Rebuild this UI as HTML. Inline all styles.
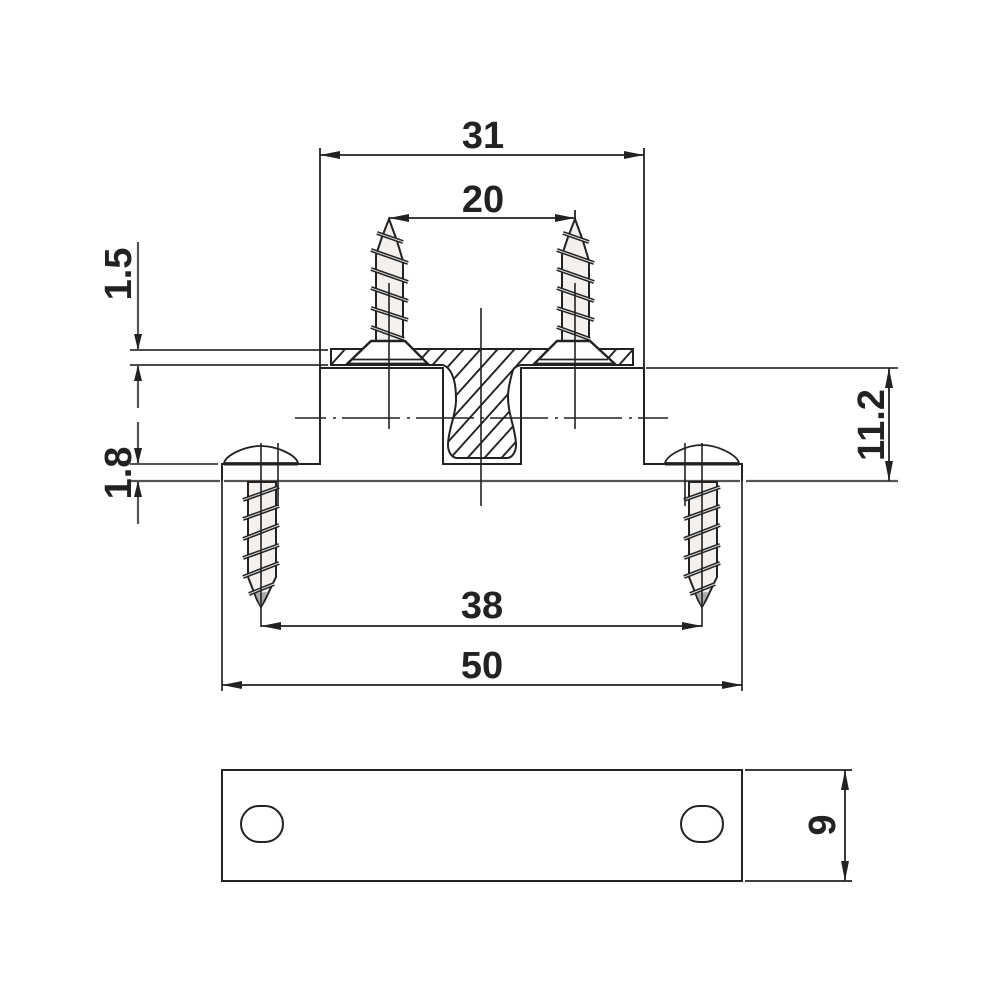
<!DOCTYPE html>
<html><head><meta charset="utf-8"><style>
html,body{margin:0;padding:0;background:#fff}
svg{display:block;filter:blur(.35px)}
text{font-family:"Liberation Sans",sans-serif;font-weight:bold;font-size:38px;fill:#222;text-anchor:middle}
</style></head><body>
<svg width="1000" height="1000" viewBox="0 0 1000 1000" xmlns="http://www.w3.org/2000/svg">
<defs>
<pattern id="h" width="12.6" height="12.6" patternUnits="userSpaceOnUse" patternTransform="translate(461.7 350) rotate(-48)">
<rect width="12.6" height="12.6" fill="#fff"/><rect y="0" width="12.6" height="1.9" fill="#222"/>
</pattern>
<marker id="a" viewBox="0 0 20 8" refX="20" refY="4" markerWidth="20" markerHeight="8" markerUnits="userSpaceOnUse" orient="auto-start-reverse"><path d="M0 0L20 4L0 8Z" fill="#222"/></marker>
<marker id="b" viewBox="0 0 16 8" refX="16" refY="4" markerWidth="16" markerHeight="8" markerUnits="userSpaceOnUse" orient="auto-start-reverse"><path d="M0 0L16 4L0 8Z" fill="#222"/></marker>
<g id="st">
<path d="M0 0L-7 18L-13 36V122H14V42L8 22Z" fill="#f4f0ed" stroke="#222" stroke-width="2"/>
<g stroke="#222" stroke-width="4"><path d="M-12 14L14 23M-18 31L19 44M-18 50L19 63M-18 69L19 82M-18 89L19 101M-18 108L15 120"/></g>
<g stroke="#ddd" stroke-width="1"><path d="M-12 14L14 23M-18 31L19 44M-18 50L19 63M-18 69L19 82M-18 89L19 101M-18 108L15 120"/></g>
</g>
<g id="sb">
<path d="M-13 0V95L-4 118L0 125L4 118L15 95V0Z" fill="#f4f0ed" stroke="#222" stroke-width="2"/>
<path d="M-6 111L0 125L6 110Z" fill="#aaa"/>
<g stroke="#222" stroke-width="4"><path d="M-18 18L18 5M-18 37L18 24M-18 57L18 43M-18 76L18 63M-18 95L18 81M-12 112L13 102"/></g>
<g stroke="#ddd" stroke-width="1"><path d="M-18 18L18 5M-18 37L18 24M-18 57L18 43M-18 76L18 63M-18 95L18 81M-12 112L13 102"/></g>
</g>
</defs>
<rect width="1000" height="1000" fill="#fff"/>
<!-- screws top -->
<use href="#st" x="389" y="219"/>
<use href="#st" x="575" y="219"/>
<!-- plate with hatching -->
<path d="M331 349H633V365H521C516 366 514 368 513 370C510 380 508 388 508 397C508 415 516 430 516 445C516 452 512 458 507 458H457C452 458 448 452 448 445C448 430 456 415 456 400C456 390 455 382 453 377C451 371 448 367 443 365H331Z" fill="url(#h)" stroke="#222" stroke-width="2"/>
<!-- countersinks -->
<path d="M371 341H405L428 364H347Z" fill="#fff" stroke="#222" stroke-width="2.4"/>
<path d="M557 341H590L615 364H534Z" fill="#fff" stroke="#222" stroke-width="2.4"/>
<path d="M352 359.500H422M540 359.500H608" stroke="#222" stroke-width="1.8"/>
<path d="M350 364H424M537 364H611" stroke="#222" stroke-width="2.6"/>
<!-- body -->
<g fill="none" stroke="#222" stroke-width="2">
<path d="M222 481V464H320V368H443V464H521V368H644V464H742V481"/>
</g>
<path d="M130 481H220M224 481H740M746 481H898" stroke="#555" stroke-width="2.2"/>
<path d="M130 464H218" stroke="#555" stroke-width="2"/>
<path d="M130 350H328M130 365H328M646 368H898" stroke="#333" stroke-width="1.8"/>
<!-- bottom screws -->
<use href="#sb" x="261" y="482"/>
<use href="#sb" x="702" y="482"/>
<path d="M224 463C226 455 245 446 261 446C277 446 296 455 298 463Z" fill="#fff" stroke="#222" stroke-width="1.8"/>
<path d="M665 463C667 455 686 445 702 445C718 445 737 455 739 463Z" fill="#fff" stroke="#222" stroke-width="1.8"/>
<path d="M224 464H298M665 464H739" stroke="#222" stroke-width="3"/>
<path d="M261 443V627M278 443V506M702 443V627M685 443V506" stroke="#222" stroke-width="1.6" fill="none"/>
<!-- center lines -->
<g stroke="#222" stroke-width="1.6" fill="none">
<path d="M481 308V506"/>
<path d="M389 283V429M575 283V429"/>
<path d="M295 418H668" stroke-dasharray="58 7 3 6" stroke-dashoffset="27"/>
</g>
<!-- dims -->
<g stroke="#222" stroke-width="1.8" fill="none">
<path d="M320 148V368M644 148V368"/>
<path d="M222 481V691M742 481V691" stroke="#444" stroke-width="2"/>
<path d="M575 210V220"/>
<path d="M320 155H644" marker-start="url(#a)" marker-end="url(#a)"/>
<path d="M389 218H575" marker-start="url(#a)" marker-end="url(#a)"/>
<path d="M261 626H702" marker-start="url(#a)" marker-end="url(#a)"/>
<path d="M222 685H742" marker-start="url(#a)" marker-end="url(#a)"/>
<path d="M889 368V481" marker-start="url(#a)" marker-end="url(#a)"/>
<path d="M845 770V881" marker-start="url(#a)" marker-end="url(#a)"/>
<g stroke="#555" stroke-width="2.2">
<path d="M138 242V350" marker-end="url(#b)"/>
<path d="M138 408V365" marker-end="url(#b)"/>
<path d="M138 422V464" marker-end="url(#b)"/>
<path d="M138 524V481" marker-end="url(#b)"/>
</g>
<path d="M745 770H852M745 881H852"/>
</g>
<!-- plan -->
<rect x="222" y="770" width="520" height="111" fill="none" stroke="#222" stroke-width="2"/>
<rect x="241" y="806" width="42" height="36" rx="18" fill="#fff" stroke="#222" stroke-width="2"/>
<rect x="681" y="806" width="42" height="36" rx="18" fill="#fff" stroke="#222" stroke-width="2"/>
<!-- text -->
<text x="483" y="148">31</text>
<text x="483" y="212">20</text>
<text x="482" y="618">38</text>
<text x="482" y="678">50</text>
<text transform="translate(131 274) rotate(-90)">1.5</text>
<text transform="translate(131 473) rotate(-90)">1.8</text>
<text transform="translate(884 425) rotate(-90)">11.2</text>
<text transform="translate(835 825) rotate(-90)">9</text>
</svg>
</body></html>
